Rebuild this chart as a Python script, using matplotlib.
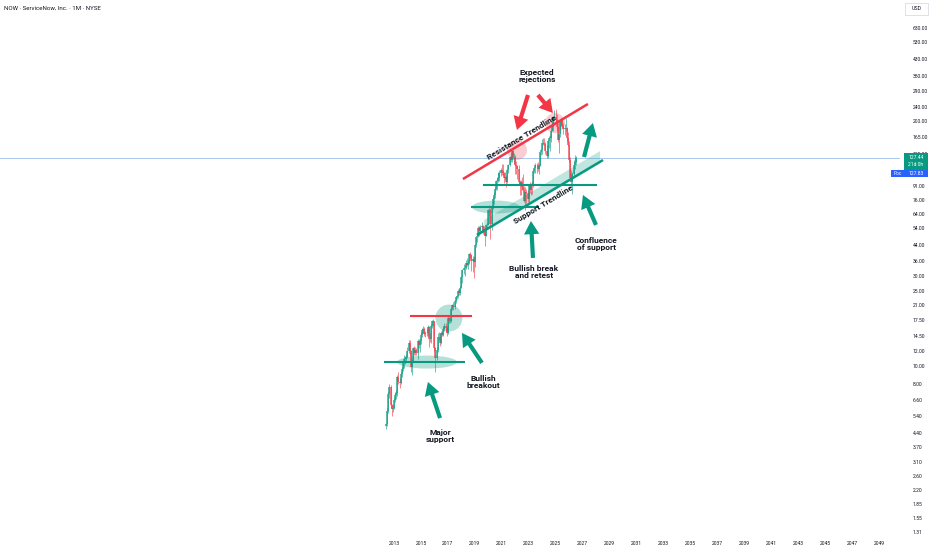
import numpy as np
import matplotlib.pyplot as plt
import matplotlib.transforms as mtransforms
from matplotlib.patches import Ellipse, FancyArrowPatch, Rectangle, Polygon
from matplotlib.ticker import NullLocator

plt.rcParams['font.family'] = ['Roboto', 'DejaVu Sans']

# monthly candles Jun 2012 -> Jul 2026 (split adjusted prices)
start_year = 2012
start_month = 6

opens = [
    4.8, 4.9, 5.8, 7.1, 7.7, 6.2, 5.9,
    6.0, 6.6, 7.0, 7.2, 8.7, 8.2, 8.1, 9.1, 9.7, 10.4, 10.9, 10.9,
    11.2, 12.0, 13.3, 12.0, 9.9, 10.7, 12.4, 11.8, 12.2, 11.8, 13.6, 12.9,
    13.6, 14.6, 15.6, 15.8, 14.8, 14.9, 14.9, 16.1, 14.0, 13.9, 16.3, 17.3,
    17.3, 12.4, 11.1, 12.2, 14.3, 14.3, 13.3, 14.9, 14.7, 15.8, 16.4, 16.0,
    14.9, 18.1, 17.4, 17.4, 20.2, 21.0, 20.7, 22.1, 23.3, 23.5, 25.2, 24.5,
    26.1, 29.8, 32.3, 33.1, 33.2, 35.5, 34.5, 35.2, 39.3, 39.1, 36.2, 37.0,
    35.6, 44.0, 48.3, 49.3, 54.3, 52.4, 54.9, 55.5, 52.3, 50.8, 49.4, 56.6,
    56.5, 67.7, 67.5, 57.3, 70.3, 77.6, 81.0, 87.8, 96.4, 97.0, 99.5, 106.9,
    110.1, 108.6, 106.7, 100.0, 101.3, 94.8, 109.9, 117.6, 128.7, 124.4, 139.5, 129.6,
    129.8, 117.1, 116.1, 111.4, 95.6, 93.5, 95.1, 89.3, 86.9, 75.5, 84.1, 83.4,
    77.6, 91.0, 86.4, 92.9, 91.9, 108.9, 112.4, 116.6, 117.8, 111.8, 116.4, 137.1,
    141.3, 153.1, 154.3, 152.5, 138.7, 131.4, 157.3, 162.9, 164.0, 178.9, 186.6, 210.0,
    212.0, 203.6, 186.1, 159.2, 171.0, 202.2, 205.6, 188.6, 183.0, 184.0, 184.5, 163.0,
    150.0, 125.0, 100.0, 95.0, 105.0, 118.0, 122.0,
]
highs = [
    5.0, 6.0, 7.3, 8.0, 7.9, 6.3, 6.2,
    6.8, 7.3, 7.5, 9.0, 9.3, 8.6, 9.3, 9.9, 10.6, 11.4, 11.3, 11.5,
    12.6, 13.8, 13.8, 12.2, 10.9, 12.6, 12.8, 12.6, 12.5, 14.0, 13.9, 13.9,
    15.1, 16.0, 16.3, 16.2, 15.4, 15.8, 16.6, 16.4, 14.9, 16.7, 17.6, 17.8,
    17.4, 12.7, 12.6, 14.9, 15.1, 14.9, 15.4, 15.3, 16.1, 17.0, 17.0, 16.3,
    18.5, 18.3, 18.0, 20.4, 21.5, 21.8, 22.4, 23.6, 24.0, 25.6, 25.8, 26.6,
    30.3, 33.0, 34.8, 34.6, 36.7, 37.4, 36.8, 39.7, 40.3, 39.5, 38.7, 38.3,
    44.6, 48.8, 50.8, 55.4, 55.6, 56.0, 58.5, 56.2, 55.4, 52.0, 57.2, 57.7,
    68.6, 72.1, 69.3, 72.0, 78.8, 83.8, 90.0, 98.1, 101.7, 107.4, 110.3, 113.5,
    119.3, 119.1, 108.0, 108.2, 103.6, 111.4, 118.4, 131.0, 135.5, 141.3, 141.5, 135.1,
    131.8, 123.6, 117.3, 116.8, 98.0, 97.7, 101.3, 105.0, 91.0, 89.4, 87.3, 86.1,
    93.1, 95.8, 94.0, 96.2, 111.0, 114.8, 120.9, 120.0, 121.5, 118.9, 138.0, 143.5,
    162.0, 162.8, 163.0, 155.6, 150.0, 159.0, 167.7, 170.0, 181.0, 198.0, 211.0, 229.0,
    234.0, 219.0, 196.0, 172.0, 207.0, 208.0, 208.0, 197.0, 194.0, 208.0, 187.0, 175.0,
    158.0, 130.0, 110.0, 108.0, 125.0, 132.0, 131.0,
]
lows = [
    4.6, 4.8, 5.6, 6.8, 6.0, 5.4, 5.7,
    5.9, 6.4, 6.7, 6.9, 8.0, 7.6, 8.0, 8.7, 9.4, 9.8, 10.2, 10.6,
    11.0, 11.7, 11.5, 9.3, 9.0, 10.5, 11.5, 11.4, 11.4, 10.9, 12.5, 11.9,
    13.1, 14.2, 15.0, 14.4, 14.3, 14.5, 14.5, 12.6, 13.4, 13.2, 15.9, 16.3,
    12.0, 9.3, 10.8, 11.9, 13.7, 12.8, 13.1, 14.4, 14.5, 15.4, 15.2, 14.4,
    14.8, 16.9, 16.9, 17.1, 19.8, 19.8, 20.2, 21.6, 22.6, 23.1, 23.9, 23.9,
    25.9, 27.8, 30.7, 30.1, 32.7, 34.2, 33.0, 35.0, 37.5, 32.1, 31.6, 29.4,
    33.8, 43.1, 45.7, 48.7, 49.0, 50.2, 53.2, 50.2, 49.6, 43.3, 49.1, 53.8,
    56.2, 63.0, 47.6, 53.0, 68.4, 73.0, 78.0, 86.5, 86.2, 95.0, 96.0, 102.0,
    103.7, 104.2, 94.2, 99.4, 90.1, 94.0, 107.0, 116.4, 122.0, 121.0, 127.0, 119.4,
    105.0, 105.4, 99.0, 93.5, 81.3, 81.0, 86.0, 86.5, 75.0, 67.4, 73.6, 74.2,
    73.0, 83.0, 81.4, 82.7, 89.2, 106.0, 107.0, 106.7, 108.4, 105.7, 116.0, 133.1,
    134.0, 150.0, 149.0, 134.3, 127.5, 128.0, 145.0, 140.0, 155.0, 178.0, 178.8, 204.0,
    197.0, 181.0, 155.0, 135.6, 166.0, 188.0, 186.0, 171.0, 170.0, 178.0, 157.0, 148.0,
    122.0, 96.0, 90.0, 82.0, 101.0, 112.0, 118.0,
]
closes = [
    4.9, 5.8, 7.1, 7.7, 6.2, 5.9, 6.0,
    6.6, 7.0, 7.2, 8.7, 8.2, 8.1, 9.1, 9.7, 10.4, 10.9, 10.9, 11.2,
    12.0, 13.3, 12.0, 9.9, 10.7, 12.4, 11.8, 12.2, 11.8, 13.6, 12.9, 13.6,
    14.6, 15.6, 15.8, 14.8, 14.9, 14.9, 16.1, 14.0, 13.9, 16.3, 17.3, 17.3,
    12.4, 11.1, 12.2, 14.3, 14.3, 13.3, 14.9, 14.7, 15.8, 16.4, 16.0, 14.9,
    18.1, 17.4, 17.4, 20.2, 21.0, 20.7, 22.1, 23.3, 23.5, 25.2, 24.5, 26.1,
    29.8, 32.3, 33.1, 33.2, 35.5, 34.5, 35.2, 39.3, 39.1, 36.2, 37.0, 35.6,
    44.0, 48.3, 49.3, 54.3, 52.4, 54.9, 55.5, 52.3, 50.8, 49.4, 56.6, 56.5,
    67.7, 67.5, 57.3, 70.3, 77.6, 81.0, 87.8, 96.4, 97.0, 99.5, 106.9, 110.1,
    108.6, 106.7, 100.0, 101.3, 94.8, 109.9, 117.6, 128.7, 124.4, 139.5, 129.6, 129.8,
    117.1, 116.1, 111.4, 95.6, 93.5, 95.1, 89.3, 86.9, 75.5, 84.1, 83.4, 77.6,
    91.0, 86.4, 92.9, 91.9, 108.9, 112.4, 116.6, 117.8, 111.8, 116.4, 137.1, 141.3,
    153.1, 154.3, 152.5, 138.7, 131.4, 157.3, 162.9, 164.0, 178.9, 186.6, 210.0, 212.0,
    203.6, 186.1, 159.2, 171.0, 202.2, 205.6, 188.6, 183.0, 184.0, 184.5, 163.0, 150.0,
    125.0, 100.0, 95.0, 105.0, 118.0, 122.0, 127.44,
]
last_price = 127.44

price_ticks = [630, 530, 430, 350, 290, 240, 200, 165, 135, 91, 76, 64, 54, 44,
               36, 30, 25, 21, 17.5, 14.5, 12, 10, 8, 6.6, 5.4, 4.4, 3.7, 3.1,
               2.6, 2.2, 1.85, 1.55, 1.31]
year_ticks = list(range(2013, 2050, 2))

GREEN = '#089981'
RED = '#f23645'
INK = '#131722'

o = np.array(opens); h = np.array(highs); l = np.array(lows); c = np.array(closes)
xs = start_year + (start_month - 1 + np.arange(len(c))) / 12

fig = plt.figure(figsize=(9.32, 5.5), dpi=100)
ax = fig.add_axes([0, 15 / 550, 900 / 932, 535 / 550])
ax.set_yscale('log')

# candles
col = np.where(c >= o, GREEN, RED)
ax.vlines(xs, l, h, colors=col, lw=0.5, alpha=0.85)
ax.vlines(xs, np.minimum(o, c), np.maximum(o, c), colors=col, lw=1.1, alpha=0.85)

ax.axhline(last_price, color='#9cc2ec', lw=0.6, zorder=0)


def blob(x, y, w, hgt, color, alpha):
    # ellipse sized in pixels, centred on a data point
    tr = fig.dpi_scale_trans + mtransforms.ScaledTranslation(x, y, ax.transData)
    ax.add_patch(Ellipse((0, 0), w / 100, hgt / 100, transform=tr,
                         facecolor=color, alpha=alpha, lw=0))


def arrow(tail, tip, color):
    ax.add_patch(FancyArrowPatch(tail, tip, color=color, lw=0,
                                 arrowstyle='simple,head_length=0.95,head_width=1.1,tail_width=0.3',
                                 mutation_scale=10, shrinkA=0, shrinkB=0))


def label(x, y, s, rot=0):
    ax.text(x, y, s, ha='center', va='center', fontsize=6, fontweight='bold',
            color=INK, rotation=rot, rotation_mode='anchor', linespacing=1.05)


# trendlines
res_x = [2018.12, 2027.40]; res_y = [98.8, 247.7]
sup_x = [2019.16, 2028.52]; sup_y = [49.8, 124.7]
ax.plot(res_x, res_y, color=RED, lw=1.8, solid_capstyle='butt')
ax.plot(sup_x, sup_y, color=GREEN, lw=1.8, solid_capstyle='butt')


def sup_at(t):
    f = (t - sup_x[0]) / (sup_x[1] - sup_x[0])
    return sup_y[0] * (sup_y[1] / sup_y[0]) ** f


band_x = [2019.7, 2028.3]
ax.add_patch(Polygon([(band_x[0], sup_at(band_x[0]) * 0.98), (band_x[1], sup_at(band_x[1]) * 0.98),
                      (band_x[1], sup_at(band_x[1]) * 1.14), (band_x[0], sup_at(band_x[0]) * 1.14)],
                     closed=True, facecolor=GREEN, alpha=0.25, lw=0))

# horizontal levels
ax.hlines(92.0, 2019.61, 2028.07, color=GREEN, lw=1.5)
ax.hlines(70.1, 2018.72, 2023.8, color=GREEN, lw=1.5)
ax.hlines(18.4, 2014.19, 2018.79, color=RED, lw=1.5)
ax.hlines(10.5, 2012.26, 2018.27, color=GREEN, lw=1.5)

# highlight zones
blob(2022.13, 141, 20, 20, RED, 0.25)
blob(2024.95, 196, 20, 20, RED, 0.25)
blob(2017.08, 18.0, 27, 27, GREEN, 0.3)
blob(2015.45, 10.5, 60, 13, GREEN, 0.3)
blob(2020.57, 70.1, 48, 13, GREEN, 0.3)

# arrows
arrow((2022.95, 276.5), (2022.13, 180.1), RED)
arrow((2023.69, 276.5), (2024.80, 221.8), RED)
arrow((2027.11, 129.4), (2027.77, 196.2), GREEN)
arrow((2028.0, 56.3), (2027.03, 81.3), GREEN)
arrow((2023.32, 37.6), (2023.17, 59.1), GREEN)
arrow((2019.53, 10.4), (2018.05, 15.0), GREEN)
arrow((2016.42, 5.29), (2015.52, 8.23), GREEN)

# text
label(2023.62, 349, 'Expected\nrejections')
label(2023.39, 31.6, 'Bullish break\nand retest')
label(2028.0, 44.6, 'Confluence\nof support')
label(2019.61, 8.23, 'Bullish\nbreakout')
label(2016.42, 4.24, 'Major\nsupport')
label(2022.5, 165.4, 'Resistance Trendline', rot=31)
label(2024.06, 71.9, 'Support Trendline', rot=31)

# axes styling
ax.set_xlim(1983.75, 2050.57)
ax.set_ylim(1.263, 885)
ax.yaxis.tick_right()
ax.set_yticks(price_ticks)
ax.set_yticklabels(['%.2f' % p for p in price_ticks])
ax.yaxis.set_minor_locator(NullLocator())
ax.set_xticks(year_ticks)
ax.set_xticklabels([str(y) for y in year_ticks])
ax.tick_params(axis='y', length=0, pad=9, labelsize=3.6, labelcolor=INK)
ax.tick_params(axis='x', length=0, pad=4, labelsize=3.6, labelcolor=INK)
for s in ax.spines.values():
    s.set_visible(False)

# header and price scale tags
W, H = 932, 550
fig.text(4 / W, 1 - 8 / H, 'NOW · ServiceNow, Inc. · 1M · NYSE', fontsize=4.4,
         va='center', color=INK)
fig.add_artist(Rectangle((905 / W, 1 - 15 / H), 23 / W, 12 / H, transform=fig.transFigure,
                         facecolor='white', edgecolor='#d1d4dc', lw=0.5))
fig.text(916.5 / W, 1 - 9 / H, 'USD', fontsize=3.8, ha='center', va='center', color=INK)

fig.add_artist(Rectangle((904 / W, 1 - 170 / H), 24 / W, 17 / H, transform=fig.transFigure,
                         facecolor=GREEN, lw=0, zorder=5))
fig.text(916 / W, 1 - 157.5 / H, '127.44', fontsize=3.6, ha='center', va='center',
         color='white', zorder=6)
fig.text(916 / W, 1 - 164.5 / H, '21d 0h', fontsize=3.6, ha='center', va='center',
         color='white', zorder=6)
fig.add_artist(Rectangle((904 / W, 1 - 177 / H), 24 / W, 7 / H, transform=fig.transFigure,
                         facecolor='#2962ff', lw=0, zorder=5))
fig.text(916 / W, 1 - 173.5 / H, '127.83', fontsize=3.6, ha='center', va='center',
         color='white', zorder=6)
fig.add_artist(Rectangle((891 / W, 1 - 177 / H), 13 / W, 7 / H, transform=fig.transFigure,
                         facecolor='#2962ff', lw=0, zorder=5))
fig.text(897.5 / W, 1 - 173.5 / H, 'Poc', fontsize=3.4, ha='center', va='center',
         color='white', zorder=6)

fig.savefig('out.png', dpi=100, facecolor='white')
